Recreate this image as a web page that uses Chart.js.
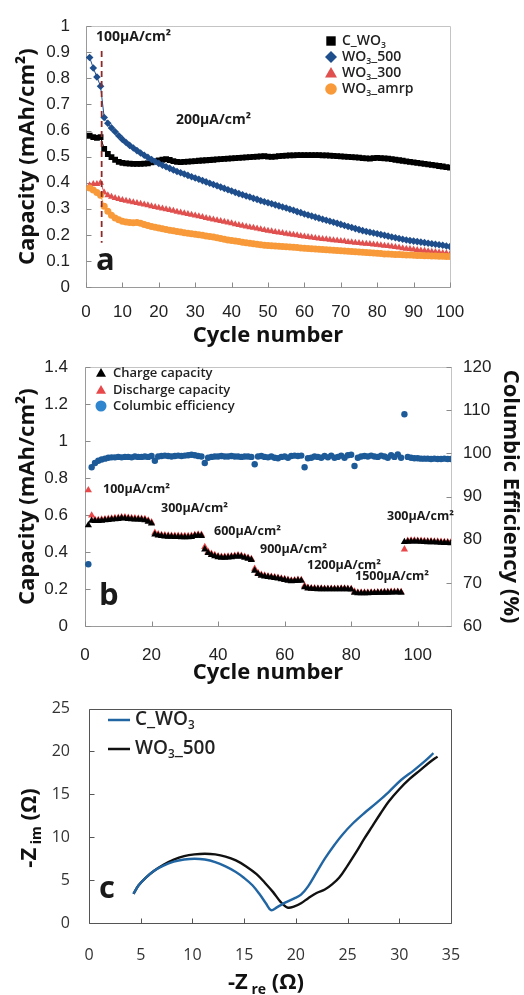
<!DOCTYPE html>
<html>
<head>
<meta charset="utf-8">
<script src="https://cdn.jsdelivr.net/npm/chart.js@4/dist/chart.umd.min.js"></script>
<style>
  html, body { margin: 0; padding: 0; background: #fff; }
  body { width: 524px; height: 995px; position: relative; overflow: hidden; }
  canvas { position: absolute; left: 0; }
  #chartA { top: 0; }
  #chartB { top: 340px; }
  #chartC { top: 680px; }
</style>
</head>
<body>
<canvas id="chartA" width="524" height="350"></canvas>
<canvas id="chartB" width="524" height="350"></canvas>
<canvas id="chartC" width="524" height="315"></canvas>
<script>
// ---- panel a: capacity vs cycle ----
const cyclesA = Array.from({ length: 100 }, (_, i) => i + 1);
const cWO3 = [0.580,0.575,0.572,0.575,0.530,0.510,0.498,0.488,0.480,0.476,
  0.474,0.473,0.472,0.472,0.472,0.473,0.474,0.478,0.482,0.485,
  0.488,0.490,0.487,0.483,0.480,0.479,0.480,0.481,0.482,0.483,
  0.484,0.485,0.486,0.487,0.488,0.489,0.490,0.491,0.492,0.493,
  0.494,0.495,0.496,0.497,0.498,0.499,0.500,0.501,0.502,0.500,
  0.499,0.500,0.502,0.503,0.504,0.505,0.505,0.506,0.506,0.506,
  0.506,0.506,0.506,0.506,0.505,0.505,0.504,0.503,0.502,0.501,
  0.500,0.499,0.498,0.497,0.496,0.494,0.493,0.492,0.494,0.495,
  0.494,0.493,0.492,0.490,0.488,0.486,0.484,0.482,0.480,0.478,
  0.476,0.474,0.472,0.470,0.468,0.466,0.464,0.462,0.460,0.458];
const wo3_500 = [0.880,0.840,0.805,0.770,0.650,0.628,0.610,0.595,0.580,0.566,
  0.554,0.543,0.533,0.523,0.514,0.505,0.497,0.489,0.481,0.474,
  0.467,0.461,0.455,0.449,0.443,0.438,0.433,0.428,0.423,0.418,
  0.413,0.408,0.403,0.398,0.393,0.388,0.383,0.378,0.373,0.368,
  0.363,0.358,0.354,0.349,0.345,0.340,0.336,0.331,0.327,0.323,
  0.319,0.315,0.311,0.307,0.303,0.298,0.294,0.289,0.285,0.280,
  0.276,0.272,0.268,0.264,0.260,0.256,0.252,0.248,0.244,0.240,
  0.236,0.232,0.228,0.224,0.220,0.216,0.213,0.210,0.207,0.204,
  0.201,0.198,0.195,0.192,0.189,0.186,0.183,0.180,0.178,0.176,
  0.174,0.172,0.170,0.168,0.166,0.164,0.162,0.160,0.157,0.155];
const wo3_300 = [0.390,0.395,0.395,0.400,0.362,0.352,0.346,0.341,0.337,0.334,
  0.331,0.328,0.325,0.322,0.319,0.316,0.313,0.310,0.307,0.304,
  0.301,0.298,0.295,0.292,0.289,0.286,0.283,0.280,0.277,0.274,
  0.271,0.268,0.265,0.262,0.259,0.256,0.253,0.250,0.247,0.244,
  0.241,0.238,0.235,0.232,0.229,0.227,0.224,0.221,0.219,0.216,
  0.214,0.211,0.209,0.207,0.204,0.202,0.200,0.198,0.196,0.194,
  0.192,0.190,0.188,0.186,0.184,0.183,0.181,0.179,0.178,0.176,
  0.175,0.173,0.172,0.170,0.169,0.167,0.166,0.165,0.163,0.162,
  0.160,0.158,0.157,0.155,0.153,0.151,0.149,0.147,0.146,0.144,
  0.142,0.140,0.139,0.137,0.135,0.134,0.132,0.130,0.129,0.127];
const wo3_amrp = [0.380,0.372,0.362,0.352,0.310,0.290,0.275,0.265,0.258,0.252,
  0.249,0.247,0.246,0.247,0.244,0.240,0.236,0.232,0.229,0.226,
  0.223,0.220,0.218,0.216,0.213,0.211,0.208,0.206,0.204,0.202,
  0.200,0.198,0.196,0.194,0.192,0.189,0.186,0.183,0.180,0.178,
  0.176,0.174,0.172,0.170,0.168,0.166,0.164,0.162,0.160,0.159,
  0.158,0.157,0.156,0.155,0.154,0.153,0.152,0.151,0.150,0.149,
  0.148,0.147,0.146,0.145,0.144,0.143,0.142,0.141,0.140,0.139,
  0.138,0.137,0.136,0.135,0.134,0.133,0.132,0.131,0.130,0.129,
  0.128,0.127,0.127,0.126,0.125,0.125,0.124,0.123,0.123,0.122,
  0.121,0.121,0.120,0.120,0.119,0.119,0.118,0.118,0.117,0.117];
// current change marker (cycle, capacity from/to)
const rateChangeX = [4.3, 4.3];
const rateChangeY = [0.905, 0.17];

// ---- panel b: rate test ----
const cyclesB = Array.from({ length: 110 }, (_, i) => i + 1);
const chargeCap = [0.545,0.570,0.568,0.568,0.570,0.572,0.574,0.576,0.578,0.580,
  0.583,0.582,0.580,0.578,0.577,0.576,0.575,0.573,0.565,0.555,
  0.495,0.490,0.487,0.485,0.484,0.483,0.482,0.482,0.481,0.481,
  0.481,0.482,0.488,0.490,0.488,0.415,0.395,0.385,0.378,0.373,
  0.370,0.370,0.371,0.373,0.375,0.378,0.375,0.370,0.365,0.358,
  0.300,0.282,0.272,0.268,0.266,0.263,0.260,0.257,0.253,0.250,
  0.246,0.243,0.244,0.246,0.245,0.210,0.204,0.202,0.201,0.200,
  0.200,0.199,0.199,0.199,0.199,0.199,0.200,0.200,0.199,0.198,
  0.180,0.178,0.178,0.178,0.178,0.179,0.179,0.180,0.180,0.181,
  0.181,0.182,0.182,0.183,0.181,0.455,0.456,0.458,0.458,0.457,
  0.456,0.455,0.454,0.454,0.453,0.452,0.451,0.450,0.449,0.448];
const dischargeCap = [0.735,0.598,0.575,0.574,0.576,0.578,0.580,0.582,0.584,0.586,
  0.589,0.588,0.586,0.584,0.583,0.582,0.581,0.579,0.571,0.561,
  0.505,0.496,0.493,0.491,0.490,0.489,0.488,0.488,0.487,0.487,
  0.487,0.488,0.493,0.495,0.494,0.428,0.402,0.391,0.384,0.378,
  0.375,0.375,0.376,0.378,0.380,0.383,0.380,0.375,0.370,0.363,
  0.310,0.287,0.277,0.273,0.270,0.267,0.264,0.261,0.257,0.254,
  0.250,0.247,0.248,0.250,0.249,0.218,0.207,0.205,0.204,0.203,
  0.203,0.202,0.202,0.202,0.202,0.202,0.203,0.203,0.202,0.201,
  0.187,0.181,0.181,0.181,0.181,0.182,0.182,0.183,0.183,0.184,
  0.184,0.185,0.185,0.186,0.184,0.415,0.461,0.463,0.463,0.462,
  0.461,0.460,0.459,0.459,0.458,0.457,0.456,0.455,0.454,0.453];
const columbicEff = [74.3,96.8,97.8,98.3,98.6,98.8,99.0,99.1,99.1,99.2,
  99.1,99.2,99.2,99.1,99.3,99.2,99.2,99.3,99.2,99.4,
  98.3,99.3,99.4,99.5,99.4,99.3,99.4,99.5,99.4,99.5,
  99.6,99.7,99.6,99.4,99.3,97.8,99.0,99.2,99.3,99.3,
  99.4,99.3,99.3,99.4,99.3,99.3,99.2,99.3,99.3,99.2,
  97.5,99.3,99.4,99.2,99.1,99.3,99.0,98.9,99.2,99.3,
  99.0,99.4,99.5,99.4,99.5,96.8,98.9,99.0,99.3,99.2,
  99.0,99.4,99.1,99.5,99.0,99.2,99.5,99.0,99.6,99.7,
  97.1,99.0,99.3,99.4,99.3,99.5,99.3,99.2,99.5,99.3,
  99.0,99.6,99.2,99.8,99.0,109.1,99.2,99.0,98.9,98.9,
  98.8,98.8,98.8,98.7,98.8,98.7,98.7,98.8,98.7,98.7];

// ---- panel c: Nyquist plot ----
const zReC = [4.3,4.8,5.5,6.3,7.2,8.2,9.2,10.2,11.2,12.2,13.2,14.2,15.0,15.8,16.5,17.1,17.6,
  18.2,19.0,19.8,20.5,21.2,22.0,22.8,23.6,24.5,25.5,26.6,27.8,29.0,30.2,31.4,32.5,33.3];
const zImC = [3.4,4.4,5.3,6.1,6.7,7.15,7.4,7.5,7.4,7.1,6.6,5.95,5.25,4.4,3.35,2.3,1.5,
  1.85,2.4,2.85,3.3,4.3,5.9,7.5,8.9,10.3,11.6,12.8,14.0,15.3,16.7,17.8,18.9,19.8];
const zRe500 = [4.3,4.8,5.5,6.3,7.2,8.2,9.2,10.2,11.2,12.2,13.2,14.2,15.2,16.2,17.0,17.8,18.5,
  19.2,19.8,20.5,21.2,22.0,22.8,23.5,24.2,25.0,25.8,26.6,27.4,28.2,29.0,30.0,31.0,32.0,33.0,33.7];
const zIm500 = [3.4,4.4,5.3,6.1,6.8,7.4,7.8,8.0,8.07,8.0,7.75,7.3,6.6,5.7,4.7,3.6,2.5,
  1.8,1.9,2.3,2.9,3.5,3.9,4.5,5.3,6.7,8.2,9.8,11.3,12.8,14.2,15.6,16.8,17.8,18.8,19.4];

const pairs = (xs, ys) => xs.map((x, i) => ({ x: x, y: ys[i] }));

const tickFont = { family: "'Liberation Sans', Arial, sans-serif", size: 17 };
const titleFont = { family: "'Open Sans', sans-serif", size: 22, weight: 'bold', lineHeight: 1 };
const noteFamily = "'Open Sans', sans-serif";
const noGrid = { display: false, drawTicks: false };

// text with sub/superscript pieces: [text, size, dy]
function drawRich(ctx, parts, x, y, opt) {
  ctx.save();
  ctx.translate(x, y);
  if (opt.rot) ctx.rotate(opt.rot);
  ctx.fillStyle = opt.color || '#111';
  ctx.textBaseline = 'middle';
  ctx.textAlign = 'left';
  const fonts = parts.map(p => `${opt.weight || 'bold'} ${p[1]}px ${opt.family || noteFamily}`);
  const widths = parts.map((p, i) => { ctx.font = fonts[i]; return ctx.measureText(p[0]).width; });
  const total = widths.reduce((s, w) => s + w, 0);
  let cx = opt.align === 'center' ? -total / 2 : 0;
  parts.forEach((p, i) => {
    ctx.font = fonts[i];
    ctx.fillText(p[0], cx, p[2] || 0);
    cx += widths[i];
  });
  ctx.restore();
}

function drawMarker(ctx, shape, x, y, r, color) {
  ctx.save();
  ctx.fillStyle = color;
  ctx.beginPath();
  if (shape === 'rect') {
    ctx.rect(x - r, y - r, 2 * r, 2 * r);
  } else if (shape === 'diamond') {
    ctx.moveTo(x, y - r); ctx.lineTo(x + r, y); ctx.lineTo(x, y + r); ctx.lineTo(x - r, y); ctx.closePath();
  } else if (shape === 'triangle') {
    ctx.moveTo(x, y - r); ctx.lineTo(x + r, y + r * 0.75); ctx.lineTo(x - r, y + r * 0.75); ctx.closePath();
  } else {
    ctx.arc(x, y, r, 0, Math.PI * 2);
  }
  ctx.fill();
  ctx.restore();
}

function sub3(pre, post, size) {
  const parts = [[pre, size, 0], ['3', size * 0.62, size * 0.3]];
  if (post) parts.push([post, size, 0]);
  return parts;
}

// extra drawing per canvas: frame, inward ticks, notes, legends
const extras = {
  chartA: {
    box: '#c4c4c4', axis: '#9a9a9a', tick: '#8a8a8a', tickLen: 5,
    notes: [
      { t: '100μA/cm²', x: 96, y: 37, s: 14 },
      { t: '200μA/cm²', x: 176, y: 120, s: 14 },
      { t: 'a', x: 96, y: 261, s: 31 }
    ],
    legend: { x: 331, tx: 342, items: [
      { shape: 'rect', r: 4.7, color: '#000', y: 41, parts: sub3('C_WO', '', 14) },
      { shape: 'diamond', r: 6, color: '#1f4e8c', y: 57, parts: sub3('WO', '_500', 14) },
      { shape: 'triangle', r: 6, color: '#e0504f', y: 73, parts: sub3('WO', '_300', 14) },
      { shape: 'circle', r: 5.8, color: '#f89a3a', y: 89, parts: sub3('WO', '_amrp', 14) }
    ] }
  },
  chartB: {
    box: '#c4c4c4', axis: '#9a9a9a', tick: '#8a8a8a', tickLen: 5,
    notes: [
      { t: '100μA/cm²', x: 103, y: 149, s: 12.5 },
      { t: '300μA/cm²', x: 161, y: 168, s: 12.5 },
      { t: '600μA/cm²', x: 214, y: 191, s: 12.5 },
      { t: '900μA/cm²', x: 260, y: 209, s: 12.5 },
      { t: '1200μA/cm²', x: 307, y: 225, s: 12.5 },
      { t: '1500μA/cm²', x: 355, y: 236, s: 12.5 },
      { t: '300μA/cm²', x: 387, y: 176, s: 12.5 },
      { t: 'b', x: 99, y: 256, s: 31 }
    ],
    legend: { x: 101, tx: 113, items: [
      { shape: 'triangle', r: 5, color: '#000', y: 33, parts: [['Charge capacity', 13, 0]] },
      { shape: 'triangle', r: 5, color: '#e8484a', y: 50, parts: [['Discharge capacity', 13, 0]] },
      { shape: 'circle', r: 5.5, color: '#2f86cf', y: 66, parts: [['Columbic efficiency', 13, 0]] }
    ] }
  },
  chartC: {
    box: '#555', axis: '#555', tick: '#555', tickLen: 5,
    notes: [ { t: 'c', x: 99, y: 209, s: 31 } ],
    lines: [
      { color: '#2166a3', y: 40, parts: sub3('C_WO', '', 19) },
      { color: '#111', y: 69, parts: sub3('WO', '_500', 19) }
    ]
  }
};

const deco = {
  id: 'deco',
  beforeDatasetsDraw(chart) {
    const e = extras[chart.canvas.id];
    const { ctx, chartArea: a, scales } = chart;
    const L = Math.round(a.left) + 0.5, R = Math.round(a.right) + 0.5;
    const T = Math.round(a.top) + 0.5, B = Math.round(a.bottom) + 0.5;
    ctx.save();
    ctx.lineWidth = 1;
    ctx.strokeStyle = e.box;
    ctx.beginPath();
    ctx.moveTo(L, T); ctx.lineTo(R, T); ctx.lineTo(R, B);
    ctx.stroke();
    ctx.strokeStyle = e.axis;
    ctx.beginPath();
    ctx.moveTo(L, T); ctx.lineTo(L, B); ctx.lineTo(R, B);
    ctx.stroke();
    // inward tick marks
    ctx.strokeStyle = e.tick;
    ctx.beginPath();
    scales.x.ticks.forEach(t => {
      const px = Math.round(scales.x.getPixelForValue(t.value)) + 0.5;
      ctx.moveTo(px, B); ctx.lineTo(px, B - e.tickLen);
    });
    scales.y.ticks.forEach(t => {
      const py = Math.round(scales.y.getPixelForValue(t.value)) + 0.5;
      ctx.moveTo(L, py); ctx.lineTo(L + e.tickLen, py);
    });
    if (scales.y2) {
      scales.y2.ticks.forEach(t => {
        const py = Math.round(scales.y2.getPixelForValue(t.value)) + 0.5;
        ctx.moveTo(R, py); ctx.lineTo(R - e.tickLen, py);
      });
    }
    ctx.stroke();
    ctx.restore();
  },
  afterDraw(chart) {
    const e = extras[chart.canvas.id];
    const ctx = chart.ctx;
    e.notes.forEach(n => drawRich(ctx, [[n.t, n.s, 0]], n.x, n.y, { color: '#1a1a1a' }));
    if (e.legend) {
      e.legend.items.forEach(it => {
        drawMarker(ctx, it.shape, e.legend.x, it.y, it.r, it.color);
        drawRich(ctx, it.parts, e.legend.tx, it.y, { weight: '600', color: '#222' });
      });
    }
    if (e.lines) {
      e.lines.forEach(it => {
        ctx.save();
        ctx.strokeStyle = it.color;
        ctx.lineWidth = 2.5;
        ctx.beginPath(); ctx.moveTo(108, it.y); ctx.lineTo(130, it.y); ctx.stroke();
        ctx.restore();
        drawRich(ctx, it.parts, 135, it.y, { weight: '600', color: '#222' });
      });
      // axis titles with subscripts
      drawRich(ctx, [['-Z', 22, 0], [' re', 14, 7], [' (Ω)', 22, 0]], 266, 303, { align: 'center', color: '#111' });
      drawRich(ctx, [['-Z', 22, 0], [' im', 14, 7], [' (Ω)', 22, 0]], 30, 148, { align: 'center', rot: -Math.PI / 2, color: '#111' });
    }
  }
};

const baseOpts = { responsive: false, animation: false, events: [] };
const noLegend = { legend: { display: false }, tooltip: { enabled: false } };
const fmt = v => String(+v.toFixed(2));

function markerSet(label, ys, xs, shape, radius, color, order, line) {
  return {
    label: label, data: pairs(xs, ys), order: order,
    pointStyle: shape, pointRadius: radius, pointBackgroundColor: color, pointBorderColor: color,
    pointBorderWidth: 0, showLine: line, borderColor: color, borderWidth: 1
  };
}

new Chart(document.getElementById('chartA'), {
  type: 'scatter',
  data: {
    datasets: [
      { label: 'rate change', data: pairs(rateChangeX, rateChangeY), showLine: true, pointRadius: 0,
        borderColor: '#8c2a2a', borderWidth: 1.8, borderDash: [6, 4], order: 0 },
      markerSet('C_WO3', cWO3, cyclesA, 'rect', 4.1, '#000', 4, true),
      markerSet('WO3_500', wo3_500, cyclesA, 'rectRot', 3.8, '#1f4e8c', 3, true),
      markerSet('WO3_300', wo3_300, cyclesA, 'triangle', 4, '#e0504f', 2, true),
      markerSet('WO3_amrp', wo3_amrp, cyclesA, 'circle', 3.5, '#f89a3a', 1, true)
    ]
  },
  options: Object.assign({}, baseOpts, {
    layout: { padding: { top: 22, right: 74, left: 0, bottom: 0 } },
    plugins: noLegend,
    scales: {
      x: {
        type: 'linear', min: 0, max: 100,
        ticks: { stepSize: 10, font: tickFont, color: '#222', padding: 15, maxRotation: 0, autoSkip: false },
        grid: noGrid, border: { display: false },
        title: { display: true, text: 'Cycle number', font: titleFont, color: '#111', padding: { top: 0, bottom: 3 } },
        afterFit: s => { s.height = 63; }
      },
      y: {
        min: 0, max: 1,
        ticks: { stepSize: 0.1, font: tickFont, color: '#222', padding: 16, callback: fmt },
        grid: noGrid, border: { display: false },
        title: { display: true, text: 'Capacity (mAh/cm²)', font: titleFont, color: '#111', padding: { top: 16.5, bottom: 0 } },
        afterFit: s => { s.width = 86; }
      }
    }
  }),
  plugins: [deco]
});

new Chart(document.getElementById('chartB'), {
  type: 'scatter',
  data: {
    datasets: [
      markerSet('Charge capacity', chargeCap, cyclesB, 'triangle', 4.2, '#000', 0, false),
      markerSet('Discharge capacity', dischargeCap, cyclesB, 'triangle', 4.2, '#e8484a', 1, false),
      Object.assign(markerSet('Columbic efficiency', columbicEff, cyclesB, 'circle', 3.2, '#1d5a98', 2, false), { yAxisID: 'y2' })
    ]
  },
  options: Object.assign({}, baseOpts, {
    layout: { padding: { top: 22, right: 0, left: 0, bottom: 0 } },
    plugins: noLegend,
    scales: {
      x: {
        type: 'linear', min: 0, max: 110,
        ticks: { stepSize: 20, includeBounds: false, font: tickFont, color: '#222', padding: 19, maxRotation: 0, autoSkip: false },
        grid: noGrid, border: { display: false },
        title: { display: true, text: 'Cycle number', font: titleFont, color: '#111', padding: { top: 0, bottom: 6 } },
        afterFit: s => { s.height = 64; }
      },
      y: {
        min: 0, max: 1.4,
        ticks: { stepSize: 0.2, font: tickFont, color: '#222', padding: 17, callback: fmt },
        grid: noGrid, border: { display: false },
        title: { display: true, text: 'Capacity (mAh/cm²)', font: titleFont, color: '#111', padding: { top: 16.5, bottom: 0 } },
        afterFit: s => { s.width = 85; }
      },
      y2: {
        position: 'right', min: 60, max: 120,
        ticks: { stepSize: 10, font: tickFont, color: '#222', padding: 12 },
        grid: noGrid, border: { display: false },
        title: { display: true, text: 'Columbic Efficiency (%)', font: titleFont, color: '#111', padding: { top: 3, bottom: 0 } },
        afterFit: s => { s.width = 73; }
      }
    }
  }),
  plugins: [deco]
});

const tickFontC = { family: "'Open Sans', sans-serif", size: 16 };

new Chart(document.getElementById('chartC'), {
  type: 'scatter',
  data: {
    datasets: [
      { label: 'C_WO3', data: pairs(zReC, zImC), showLine: true, pointRadius: 0, borderColor: '#2166a3', borderWidth: 2.4, tension: 0.35 },
      { label: 'WO3_500', data: pairs(zRe500, zIm500), showLine: true, pointRadius: 0, borderColor: '#111', borderWidth: 2.4, tension: 0.35 }
    ]
  },
  options: Object.assign({}, baseOpts, {
    layout: { padding: { top: 17, right: 73, left: 0, bottom: 0 } },
    plugins: noLegend,
    scales: {
      x: {
        type: 'linear', min: 0, max: 35,
        ticks: { stepSize: 5, font: tickFontC, color: '#333', padding: 23, maxRotation: 0, autoSkip: false },
        grid: noGrid, border: { display: false },
        afterFit: s => { s.height = 72; }
      },
      y: {
        min: 0, max: 25,
        ticks: { stepSize: 5, font: tickFontC, color: '#333', padding: 19 },
        grid: noGrid, border: { display: false },
        afterFit: s => { s.width = 89; }
      }
    }
  }),
  plugins: [deco]
});
</script>
</body>
</html>
